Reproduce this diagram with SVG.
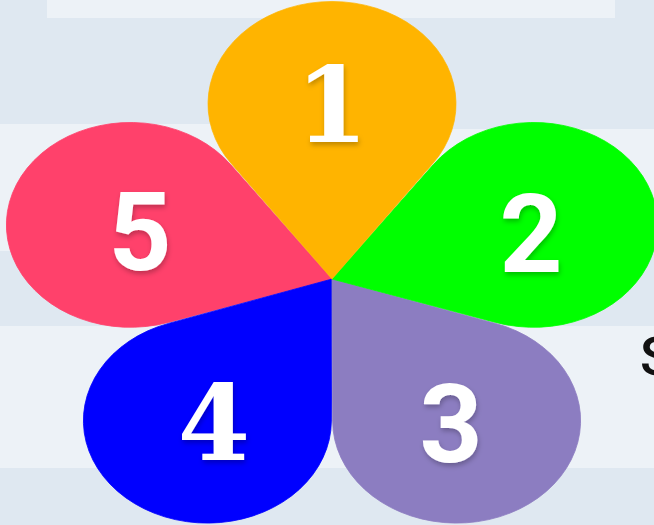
<svg xmlns="http://www.w3.org/2000/svg" width="654" height="525" viewBox="0 0 654 525">
  <defs>
    <style>
      .light { fill: #edf2f7; }
      .dark { fill: #dfe8f1; }
      .pet { stroke-width: 0.8; stroke-linejoin: round; }
      .num { fill: #ffffff; font-weight: bold; font-size: 110px; text-anchor: middle; filter: url(#sh); }
      .sans { font-family: Roboto, "Liberation Sans", sans-serif; }
      .slab { font-family: "DejaVu Serif", "Liberation Serif", serif; font-size: 104px; }
    </style>
    <filter id="sh" x="-30%" y="-30%" width="160%" height="160%">
      <feDropShadow dx="1" dy="3" stdDeviation="2.5" flood-color="#000000" flood-opacity="0.25"/>
    </filter>
    <path id="petal" d="M0,0 L100.6,-139.5 A124,124 0 1 0 -100.6,-139.5 Z"/>
  </defs>

  <g id="background">
    <rect class="dark" x="0" y="0" width="654" height="525"/>
    <rect class="light" x="47" y="0" width="568" height="18"/>
    <rect class="light" x="0" y="124" width="330" height="127"/>
    <rect class="light" x="330" y="129" width="324" height="122"/>
    <rect class="light" x="0" y="326" width="654" height="142"/>
  </g>

  <g id="petal5">
    <use href="#petal" class="pet" fill="#ff416b" stroke="#ff416b" transform="translate(332,279) scale(1,0.826) rotate(288)"/>
    <text class="num sans" x="140" y="270">5</text>
  </g>
  <g id="petal4">
    <use href="#petal" class="pet" fill="#0000ff" stroke="#0000ff" transform="translate(332,279) scale(1,0.826) rotate(216)"/>
    <text class="num slab" x="214" y="460">4</text>
  </g>
  <g id="petal3">
    <use href="#petal" class="pet" fill="#8c7dc1" stroke="#8c7dc1" transform="translate(332,279) scale(1,0.826) rotate(144)"/>
    <text class="num sans" x="451" y="462">3</text>
  </g>
  <g id="petal2">
    <use href="#petal" class="pet" fill="#00ff00" stroke="#00ff00" transform="translate(332,279) scale(1,0.826) rotate(72)"/>
    <text class="num sans" x="531" y="272">2</text>
  </g>
  <g id="petal1">
    <use href="#petal" class="pet" fill="#ffb400" stroke="#ffb400" transform="translate(332,279) scale(1,0.826)"/>
    <text class="num slab" x="332" y="142">1</text>
  </g>

  <g id="connectors"></g>

  <text x="640" y="375" font-family="Roboto, 'Liberation Sans', sans-serif" font-size="54" font-weight="500" fill="#111111">S</text>
</svg>
